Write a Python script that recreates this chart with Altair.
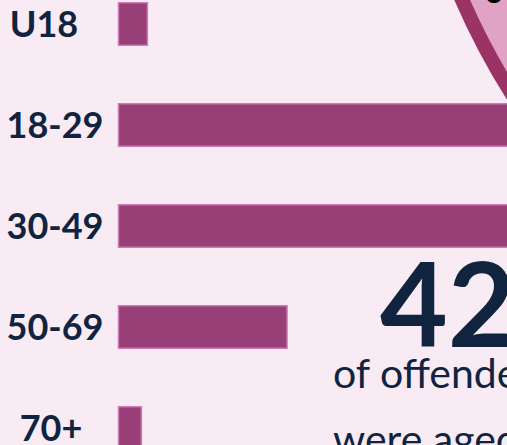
import altair as alt
import pandas as pd

# ---- data -------------------------------------------------------------
ages = ["U18", "18-29", "30-49", "50-69", "70+"]
shares = [2.4, 39.7, 42.0, 14.0, 1.9]          # % of offenders by age band
headline_value = 42
headline_lines = ["of offenders", "were aged 30-49"]

# ---- styling ----------------------------------------------------------
BG = "#f8ebf3"
BAR = "#983f77"
BAR_EDGE = "#cc7bb0"
NAVY = "#10233f"
RING = "#9a3467"
DISC = "#e0a3c6"
FONT = "Lato"

W, H = 507, 445

bars_df = pd.DataFrame({"age": ages, "share": shares})

y_enc = alt.Y(
    "age:N",
    sort=ages,
    axis=None,
    scale=alt.Scale(range=[2.8, 449.3], paddingInner=0.579, paddingOuter=0),
)
x_scale = alt.Scale(domain=[0, 42], range=[118.5, 624.2])

# decorative disc at top right
disc = (
    alt.Chart(pd.DataFrame({"k": [0]}))
    .mark_point(
        shape="circle",
        filled=True,
        fill=DISC,
        stroke=RING,
        strokeWidth=14.5,
        opacity=1,
        size=1437 ** 2,
        clip=True,
    )
    .encode(x=alt.value(1120), y=alt.value(-289))
)

disc_text = (
    alt.Chart(pd.DataFrame({"t": ["o"]}))
    .mark_text(
        font=FONT, fontSize=32, fontWeight="bold", color="black",
        align="center", baseline="alphabetic", clip=True,
    )
    .encode(text="t:N", x=alt.value(494), y=alt.value(3))
)

bars = (
    alt.Chart(bars_df)
    .mark_bar(color=BAR, stroke=BAR_EDGE, strokeWidth=1.5, clip=True)
    .encode(
        y=y_enc,
        x=alt.X("share:Q", axis=None, scale=x_scale),
    )
)


def label_layer(names, centre):
    return (
        alt.Chart(bars_df)
        .transform_filter(alt.FieldOneOfPredicate(field="age", oneOf=names))
        .mark_text(
            font=FONT, fontSize=36, fontWeight="bold", color=NAVY,
            align="center", baseline="middle", dy=2,
        )
        .encode(y=y_enc, x=alt.value(centre), text="age:N")
    )


labels_main = label_layer(["18-29", "30-49", "50-69"], 55)
labels_u18 = label_layer(["U18"], 44)
labels_70 = label_layer(["70+"], 51)

big = (
    alt.Chart(pd.DataFrame({"t": [f"{headline_value}%"]}))
    .mark_text(
        font=FONT, fontSize=117, fontWeight="bold", color=NAVY,
        align="left", baseline="alphabetic", clip=True,
    )
    .encode(text="t:N", x=alt.value(380), y=alt.value(347))
)

line1 = (
    alt.Chart(pd.DataFrame({"t": [headline_lines[0]]}))
    .mark_text(
        font=FONT, fontSize=41, color=NAVY,
        align="left", baseline="alphabetic", clip=True,
    )
    .encode(text="t:N", x=alt.value(333), y=alt.value(388))
)

line2 = (
    alt.Chart(pd.DataFrame({"t": [headline_lines[1]]}))
    .mark_text(
        font=FONT, fontSize=41, color=NAVY,
        align="left", baseline="alphabetic", clip=True,
    )
    .encode(text="t:N", x=alt.value(333), y=alt.value(454))
)

chart = (
    alt.layer(disc, disc_text, bars, labels_main, labels_u18, labels_70,
              big, line1, line2)
    .resolve_scale(y="shared")
    .properties(
        width=W,
        height=H,
        background=BG,
        padding=0,
        autosize=alt.AutoSizeParams(type="none"),
    )
    .configure_view(stroke=None)
)

chart.save("out.html", embed_options={"renderer": "svg", "actions": False})
